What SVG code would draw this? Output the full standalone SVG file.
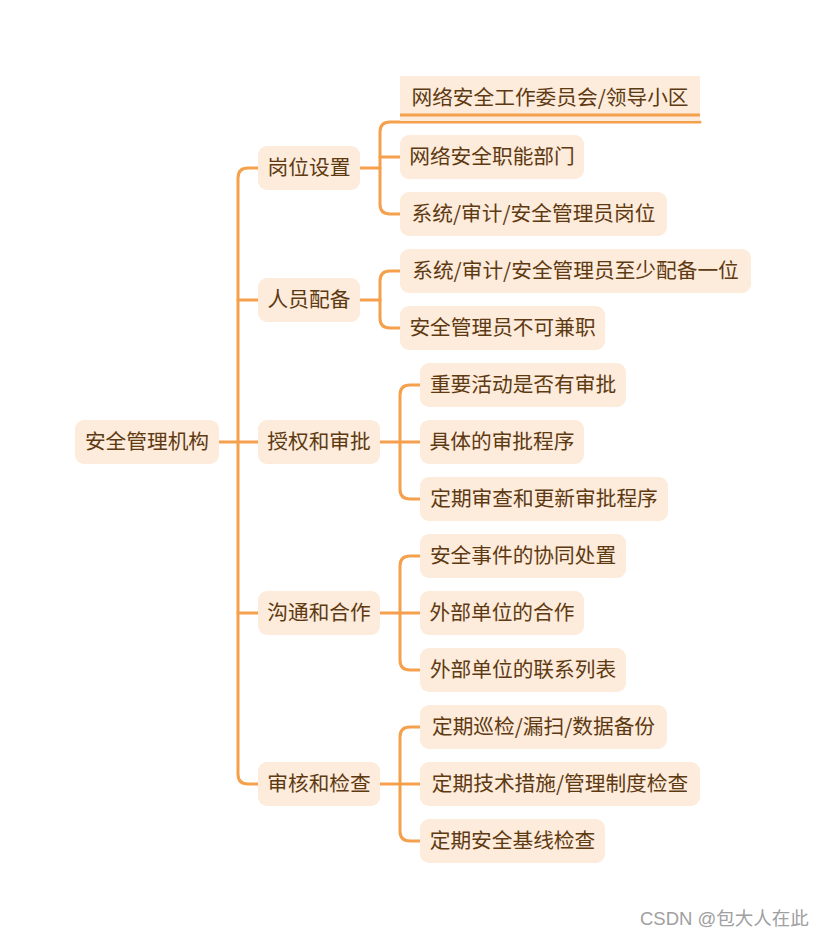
<svg xmlns="http://www.w3.org/2000/svg" width="826" height="939" viewBox="0 0 826 939">
<style>
.box{fill:#fdebdb;}
.t{font-family:"Noto Sans CJK SC","Microsoft YaHei",sans-serif;font-size:20.7px;fill:#5e3a12;text-anchor:middle;}
.c{fill:none;stroke:#f5a04c;stroke-width:3;stroke-linecap:round;}
.wm{font-family:"Liberation Sans","Noto Sans CJK SC",sans-serif;font-size:18.5px;fill:#a0a0a0;}
</style>
<rect width="826" height="939" fill="#ffffff"/>
<g id="connectors" class="c">
<path d="M219,442 H258"/>
<path d="M238,442 V178 Q238,168 248,168 H258"/>
<path d="M238,300 H258"/>
<path d="M238,613 H258"/>
<path d="M238,442 V774 Q238,784 248,784 H258"/>
<path d="M360,168 H380"/>
<path d="M380,168 V132 Q380,122 390,122 H700"/>
<path d="M380,157 H400"/>
<path d="M380,168 V204 Q380,214 390,214 H400"/>
<path d="M360,300 H380"/>
<path d="M380,300 V281 Q380,271 390,271 H400"/>
<path d="M380,300 V318 Q380,328 390,328 H400"/>
<path d="M380,442 H420"/>
<path d="M400,442 V395 Q400,385 410,385 H420"/>
<path d="M400,442 V489 Q400,499 410,499 H420"/>
<path d="M380,613 H420"/>
<path d="M400,613 V566 Q400,556 410,556 H420"/>
<path d="M400,613 V660 Q400,670 410,670 H420"/>
<path d="M380,784 H420"/>
<path d="M400,784 V737 Q400,727 410,727 H420"/>
<path d="M400,784 V831 Q400,841 410,841 H420"/>
</g>
<g id="root"><rect class="box" x="75" y="420" width="144" height="44" rx="9"/><text class="t" x="147" y="449">安全管理机构</text></g>
<g id="n1"><rect class="box" x="258" y="146" width="102" height="44" rx="9"/><text class="t" x="309" y="175">岗位设置</text></g>
<g id="n2"><rect class="box" x="258" y="278" width="102" height="44" rx="9"/><text class="t" x="309" y="307">人员配备</text></g>
<g id="n3"><rect class="box" x="258" y="420" width="122" height="44" rx="9"/><text class="t" x="319" y="449">授权和审批</text></g>
<g id="n4"><rect class="box" x="258" y="591" width="122" height="44" rx="9"/><text class="t" x="319" y="620">沟通和合作</text></g>
<g id="n5"><rect class="box" x="258" y="762" width="122" height="44" rx="9"/><text class="t" x="319" y="791">审核和检查</text></g>
<g id="n1a"><rect class="box" x="400" y="76" width="300" height="45"/><line x1="400" y1="115" x2="700" y2="115" stroke="#f5a04c" stroke-width="3"/><text class="t" x="550" y="105">网络安全工作委员会/领导小区</text></g>
<g id="n1b"><rect class="box" x="400" y="135" width="184" height="44" rx="9"/><text class="t" x="492" y="164">网络安全职能部门</text></g>
<g id="n1c"><rect class="box" x="400" y="192" width="267" height="44" rx="9"/><text class="t" x="533.5" y="221">系统/审计/安全管理员岗位</text></g>
<g id="n2a"><rect class="box" x="400" y="249" width="351" height="44" rx="9"/><text class="t" x="575.5" y="278">系统/审计/安全管理员至少配备一位</text></g>
<g id="n2b"><rect class="box" x="400" y="306" width="205" height="44" rx="9"/><text class="t" x="502.5" y="335">安全管理员不可兼职</text></g>
<g id="n3a"><rect class="box" x="420" y="363" width="206" height="44" rx="9"/><text class="t" x="523" y="392">重要活动是否有审批</text></g>
<g id="n3b"><rect class="box" x="420" y="420" width="164" height="44" rx="9"/><text class="t" x="502" y="449">具体的审批程序</text></g>
<g id="n3c"><rect class="box" x="420" y="477" width="248" height="44" rx="9"/><text class="t" x="544" y="506">定期审查和更新审批程序</text></g>
<g id="n4a"><rect class="box" x="420" y="534" width="206" height="44" rx="9"/><text class="t" x="523" y="563">安全事件的协同处置</text></g>
<g id="n4b"><rect class="box" x="420" y="591" width="164" height="44" rx="9"/><text class="t" x="502" y="620">外部单位的合作</text></g>
<g id="n4c"><rect class="box" x="420" y="648" width="206" height="44" rx="9"/><text class="t" x="523" y="677">外部单位的联系列表</text></g>
<g id="n5a"><rect class="box" x="420" y="705" width="247" height="44" rx="9"/><text class="t" x="543.5" y="734">定期巡检/漏扫/数据备份</text></g>
<g id="n5b"><rect class="box" x="420" y="762" width="280" height="44" rx="9"/><text class="t" x="560" y="791">定期技术措施/管理制度检查</text></g>
<g id="n5c"><rect class="box" x="420" y="819" width="185" height="44" rx="9"/><text class="t" x="512.5" y="848">定期安全基线检查</text></g>
<text class="wm" x="640" y="925">CSDN @包大人在此</text>
</svg>
